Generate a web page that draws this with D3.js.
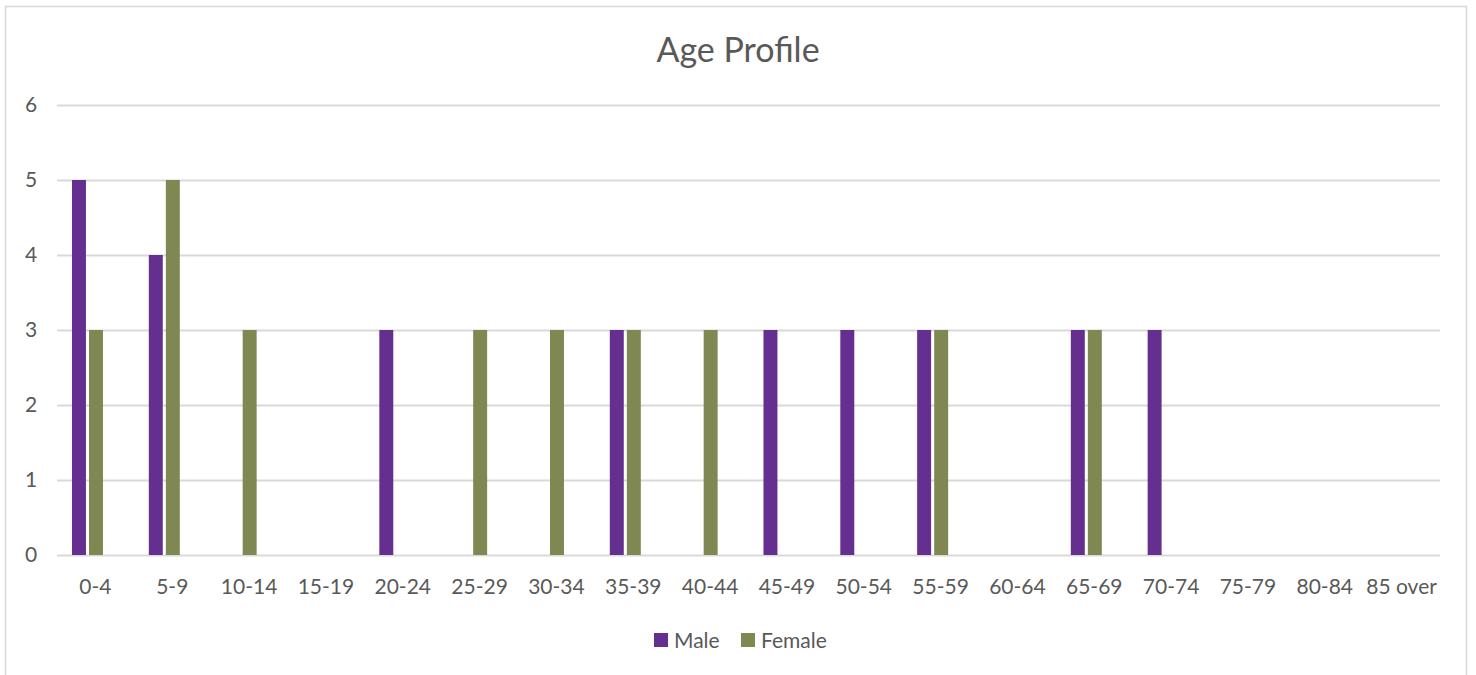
<!DOCTYPE html>
<html>
<head>
<meta charset="utf-8">
<script src="https://cdn.jsdelivr.net/npm/d3@7"></script>
<style>
  body { margin: 0; background: #fff; }
  svg { display: block; font-family: Lato, "Open Sans", sans-serif; }
</style>
</head>
<body>
<svg id="chart" width="1476" height="675"></svg>
<script>
const categories = ["0-4", "5-9", "10-14", "15-19", "20-24", "25-29", "30-34", "35-39", "40-44",
  "45-49", "50-54", "55-59", "60-64", "65-69", "70-74", "75-79", "80-84", "85 over"];
const male   = [5, 4, 0, 0, 3, 0, 0, 3, 0, 3, 3, 3, 0, 3, 3, 0, 0, 0];
const female = [3, 5, 3, 0, 0, 3, 3, 3, 3, 0, 0, 3, 0, 3, 0, 0, 0, 0];
const seriesNames = ["Male", "Female"];
const yTicks = [0, 1, 2, 3, 4, 5, 6];

const colors = { Male: "#652f90", Female: "#7f8752" };
const textColor = "#595959";
const gridColor = "#d9d9d9";

const svg = d3.select("#chart");

// chart border
svg.append("rect")
  .attr("x", 5.5).attr("y", 6.5)
  .attr("width", 1461).attr("height", 700)
  .attr("fill", "none").attr("stroke", gridColor).attr("stroke-width", 1.5);

const plot = { left: 57, right: 1440, top: 105, bottom: 555 };

const x = d3.scaleBand().domain(categories).range([plot.left, plot.right]).padding(0);
const y = d3.scaleLinear().domain([0, 6]).range([plot.bottom, plot.top]);

// cluster has room for three slots (third one empty), as in the source
const slot = d3.scaleBand().domain([0, 1, 2])
  .range([x.bandwidth() * 0.195, x.bandwidth() * 0.82]).paddingInner(0.18);

// title
svg.append("text")
  .attr("x", 738).attr("y", 62)
  .attr("text-anchor", "middle")
  .attr("fill", textColor)
  .style("font-size", "34px")
  .text("Age Profile");

// gridlines
svg.append("g").selectAll("line").data(yTicks).join("line")
  .attr("x1", plot.left).attr("x2", plot.right)
  .attr("y1", d => Math.round(y(d)) + 0.5).attr("y2", d => Math.round(y(d)) + 0.5)
  .attr("stroke", gridColor).attr("stroke-width", 2);

// y axis labels
svg.append("g").selectAll("text").data(yTicks).join("text")
  .attr("x", 31).attr("y", d => y(d) + 7)
  .attr("text-anchor", "middle")
  .attr("fill", textColor)
  .style("font-size", "21px")
  .text(d => d);

// bars
const data = [male, female];
seriesNames.forEach((name, s) => {
  svg.append("g").selectAll("rect").data(data[s]).join("rect")
    .attr("x", (d, i) => x(categories[i]) + slot(s))
    .attr("y", d => y(d))
    .attr("width", slot.bandwidth())
    .attr("height", d => y(0) - y(d))
    .attr("fill", colors[name]);
});

// x axis labels
svg.append("g").selectAll("text").data(categories).join("text")
  .attr("x", d => x(d) + x.bandwidth() / 2)
  .attr("y", 594)
  .attr("text-anchor", "middle")
  .attr("fill", textColor)
  .style("font-size", "21px")
  .text(d => d);

// legend
const legend = svg.append("g");
const legendX = [654, 741];
seriesNames.forEach((name, s) => {
  legend.append("rect")
    .attr("x", legendX[s]).attr("y", 633)
    .attr("width", 14).attr("height", 14)
    .attr("fill", colors[name]);
  legend.append("text")
    .attr("x", legendX[s] + 20).attr("y", 648)
    .attr("fill", textColor)
    .style("font-size", "21px")
    .text(name);
});
</script>
</body>
</html>
